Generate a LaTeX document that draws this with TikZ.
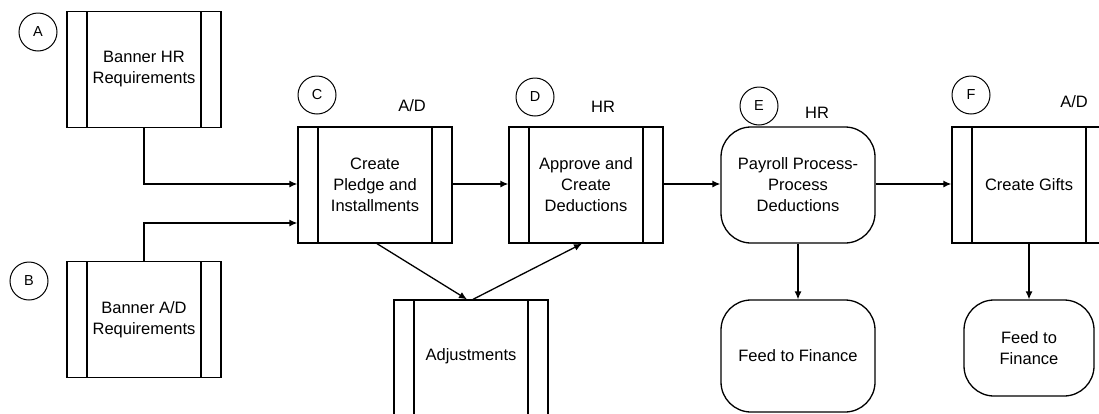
\documentclass[tikz,border=0pt]{standalone}
\usepackage{fontspec}
\setmainfont{Liberation Sans}
\usetikzlibrary{arrows.meta}
\begin{document}
\begin{tikzpicture}[x=1pt,y=-1pt,
  every node/.style={font=\fontsize{16.5}{21}\selectfont, align=center},
  ln/.style={line width=1.3pt, draw=black},
  procbox/.style={ln, rectangle, inner sep=0pt, minimum width=154pt, minimum height=116pt,
    path picture={
      \draw[line width=1.3pt] ([xshift=20pt]path picture bounding box.north west) -- ([xshift=20pt]path picture bounding box.south west);
      \draw[line width=1.3pt] ([xshift=-20pt]path picture bounding box.north east) -- ([xshift=-20pt]path picture bounding box.south east);
    }},
  roundbox/.style={ln, rectangle, rounded corners=30pt, inner sep=0pt},
  tag/.style={ln, line width=1pt, circle, minimum size=38pt, inner sep=0pt, font=\fontsize{14.5}{16}\selectfont},
  role/.style={inner sep=0pt},
  flow/.style={line width=1.3pt, -{Latex[length=8pt,width=7pt]}}
]
\path[use as bounding box] (0,0) rectangle (1099,413);
\clip (0,0) rectangle (1099,413);

% process boxes
\node[procbox] (A) at (144,69.5) {Banner HR\\Requirements};
\node[procbox] (B) at (144,319.5) {Banner A/D\\Requirements};
\node[procbox] (C) at (375,185) {Create\\Pledge and\\Installments};
\node[procbox] (D) at (586,185) {Approve and\\Create\\Deductions};
\node[procbox] (Adj) at (471,358) {};
\node (adjtext) at (471,356) {Adjustments};
\node[procbox] (F) at (1029,185) {Create Gifts};

% rounded terminals
\node[roundbox, minimum width=154pt, minimum height=116pt] (E) at (798,185) {Payroll Process-\\Process\\Deductions};
\node[roundbox, minimum width=154pt, minimum height=112pt] (G1) at (798,356) {Feed to Finance};
\node[roundbox, minimum width=130pt, minimum height=96pt] (G2) at (1029,348) {Feed to\\Finance};

% step tags
\node[tag] (tA) at (38,32) {A};
\node[tag] (tB) at (29,281) {B};
\node[tag] (tC) at (317,95) {C};
\node[tag] (tD) at (535,97) {D};
\node[tag] (tE) at (759,106) {E};
\node[tag] (tF) at (971,95) {F};

% responsible areas
\node[role] (rC) at (412,106) {A/D};
\node[role] (rD) at (603,107) {HR};
\node[role] (rE) at (817,113) {HR};
\node[role] (rF) at (1074,102) {A/D};

% flows
\draw[flow] (A.south) |- ([yshift=1pt]C.west);
\draw[flow] (B.north) |- ([yshift=-38pt]C.west);
\draw[flow] ([yshift=1pt]C.east) -- ([yshift=1pt]D.west);
\draw[flow] ([xshift=2pt]C.south) -- ([xshift=-4pt]Adj.north);
\draw[flow] ([xshift=2pt]Adj.north) -- ([xshift=-4pt]D.south);
\draw[flow] ([yshift=1pt]D.east) -- ([yshift=1pt]E.west);
\draw[flow] ([yshift=1pt]E.east) -- ([yshift=1pt]F.west);
\draw[flow] (E.south) -- (G1.north);
\draw[flow] (F.south) -- (G2.north);
\end{tikzpicture}
\end{document}
